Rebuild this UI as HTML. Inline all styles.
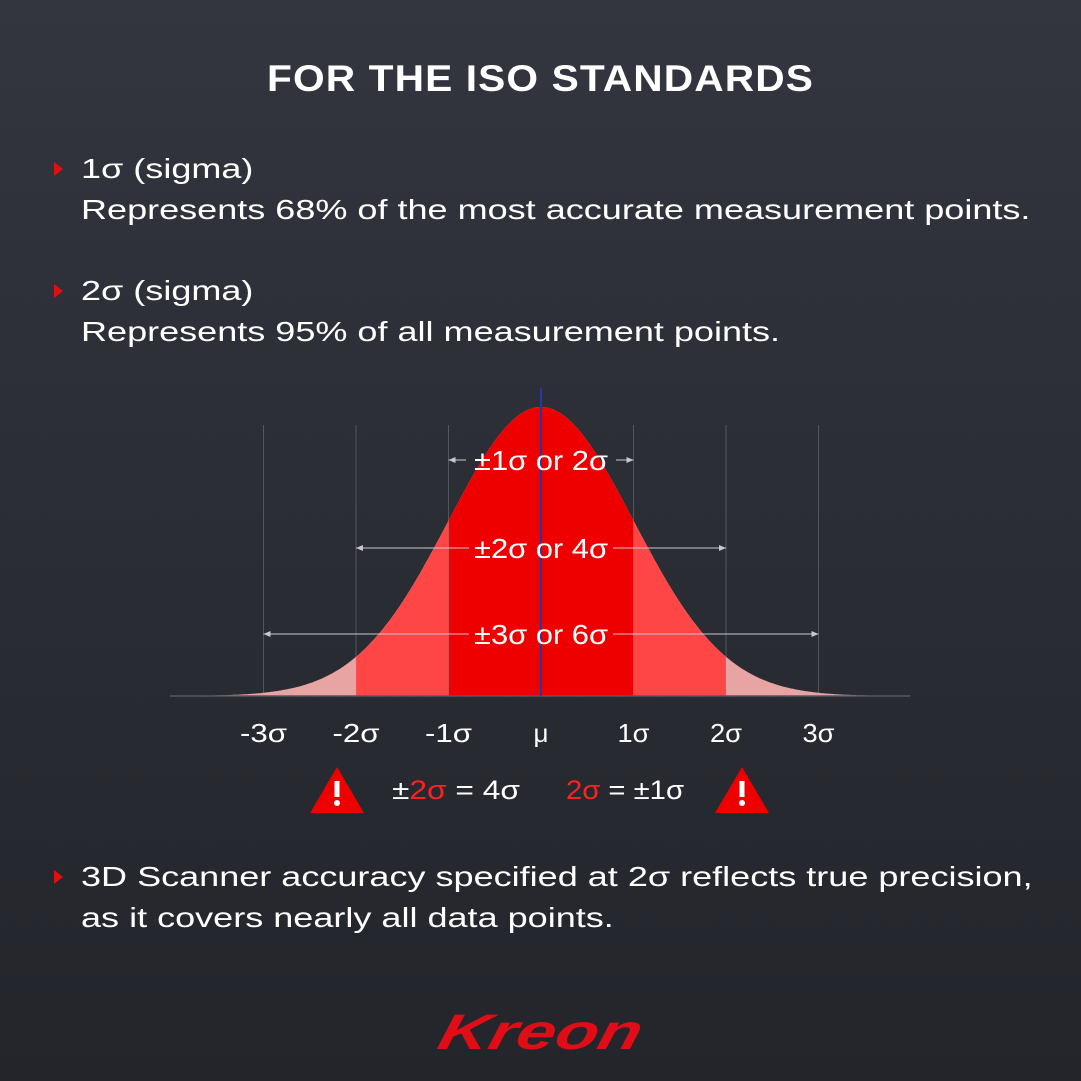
<!DOCTYPE html>
<html><head><meta charset="utf-8"><style>
html,body{margin:0;padding:0}
body{width:1081px;height:1081px;overflow:hidden;background:linear-gradient(#33353f,#23252b);font-family:"Liberation Sans",sans-serif;color:#fff;position:relative}
.t{position:absolute;white-space:nowrap}
.title{left:0;width:1081px;text-align:center;top:58px;font-size:37px;font-weight:bold;letter-spacing:1px;transform:scaleX(1.1)}
.b{font-size:28px;left:81px;line-height:41px;transform:scaleX(1.287);transform-origin:0 0}
.tri{position:absolute;width:0;height:0;border-top:7px solid transparent;border-bottom:7px solid transparent;border-left:9px solid #e01010}
</style></head><body>
<div class="t title">FOR THE ISO STANDARDS</div>
<div class="tri" style="left:54px;top:162px"></div>
<div class="t b" style="top:148px">1σ (sigma)<br>Represents 68% of the most accurate measurement points.</div>
<div class="tri" style="left:54px;top:284px"></div>
<div class="t b" style="top:270px">2σ (sigma)<br>Represents 95% of all measurement points.</div>
<div class="tri" style="left:54px;top:870px"></div>
<div class="t b" style="top:856px">3D Scanner accuracy specified at 2σ reflects true precision,<br>as it covers nearly all data points.</div>
<svg id="chart" width="1081" height="1081" style="position:absolute;left:0;top:0"></svg>
<div class="t" style="left:437px;top:1003px;width:208px;text-align:center;font-family:'Liberation Sans',sans-serif;font-weight:bold;font-style:italic;font-size:50px;color:#e00d16;letter-spacing:0px;transform:skewX(-14deg) scaleX(1.4)">Kreon</div>
<script>
const sigmaTicks=[-3,-2,-1,0,1,2,3];
const tickLabels=["-3σ","-2σ","-1σ","μ","1σ","2σ","3σ"];
const bandEdges=[4,3,2,1];
const bandColors=["#e8a3a3","#e8a3a3","#ff4646","#ee0000"];
const arrowSpans=[1,2,3];
const arrowLabels=["±1σ or 2σ","±2σ or 4σ","±3σ or 6σ"];
const arrowY=[460,548,634];
const NS="http://www.w3.org/2000/svg";
const svg=document.getElementById('chart');
const cx=541,sig=92.5,base=696,H=289;
const X=s=>cx+s*sig, Y=s=>base-H*Math.exp(-s*s/2);
function mk(t,a,p){const e=document.createElementNS(NS,t);for(const k in a)e.setAttribute(k,a[k]);(p||svg).appendChild(e);return e;}
bandEdges.forEach((w,i)=>{let d=`M${X(-w)},${base}`;for(let s=-w;s<=w+1e-9;s+=0.02)d+=`L${X(s).toFixed(1)},${Y(s).toFixed(1)}`;d+=`L${X(w)},${base}Z`;
const p=mk('path',{d,fill:bandColors[i]});

});
sigmaTicks.forEach((s,i)=>{if(s!==0){const l=mk('line',{x1:X(s),x2:X(s),y1:425,y2:base,stroke:'rgba(160,160,170,0.35)','stroke-width':1});

}
const a={x:X(s),y:742,'text-anchor':'middle','font-size':26,fill:'#fff','font-family':'Liberation Sans, sans-serif'};
if(tickLabels[i].length>2){a.textLength=47;a.lengthAdjust='spacingAndGlyphs';}else if(tickLabels[i].length===2){a.textLength=32;a.lengthAdjust='spacingAndGlyphs';}
const t=mk('text',a);t.textContent=tickLabels[i];

});
const bl=mk('line',{x1:170,x2:910,y1:base,y2:base,stroke:'#555860','stroke-width':1.5});


const ml=mk('line',{x1:X(0),x2:X(0),y1:388,y2:base,stroke:'#1f3aa8','stroke-width':2});


arrowSpans.forEach((w,i)=>{const y=arrowY[i],c='#c8c8cc';
const g=mk('g',{});


const inner=w===1?75:72;
mk('line',{x1:X(-w),x2:cx-inner,y1:y,y2:y,stroke:c,'stroke-width':1},g);
mk('line',{x1:cx+inner,x2:X(w),y1:y,y2:y,stroke:c,'stroke-width':1},g);
mk('path',{d:`M${X(-w)},${y}l7,-3v6z`,fill:c},g);
mk('path',{d:`M${X(w)},${y}l-7,-3v6z`,fill:c},g);
const t=mk('text',{x:cx,y:y+10,'text-anchor':'middle','font-size':28,textLength:134,lengthAdjust:'spacingAndGlyphs',fill:'#fff','font-family':'Liberation Sans, sans-serif'},g);t.textContent=arrowLabels[i];});
function warn(x){const g=mk('g',{});


mk('path',{d:`M${x},767L${x+27},813L${x-27},813Z`,fill:'#ee0000'},g);
mk('rect',{x:x-2.5,y:781,width:5,height:16,fill:'#fff'},g);mk('circle',{cx:x,cy:803,r:3,fill:'#fff'},g);}
warn(337);warn(742);
const e=mk('text',{x:392,y:799,'font-size':27,textLength:128,lengthAdjust:'spacingAndGlyphs',fill:'#fff','font-family':'Liberation Sans, sans-serif'});
e.innerHTML='±<tspan fill="#ff2020">2σ</tspan> = 4σ';


const e2=mk('text',{x:566,y:799,'font-size':27,textLength:118,lengthAdjust:'spacingAndGlyphs',fill:'#fff','font-family':'Liberation Sans, sans-serif'});
e2.innerHTML='<tspan fill="#ff2020">2σ</tspan> = ±1σ';


</script>
</body></html>
